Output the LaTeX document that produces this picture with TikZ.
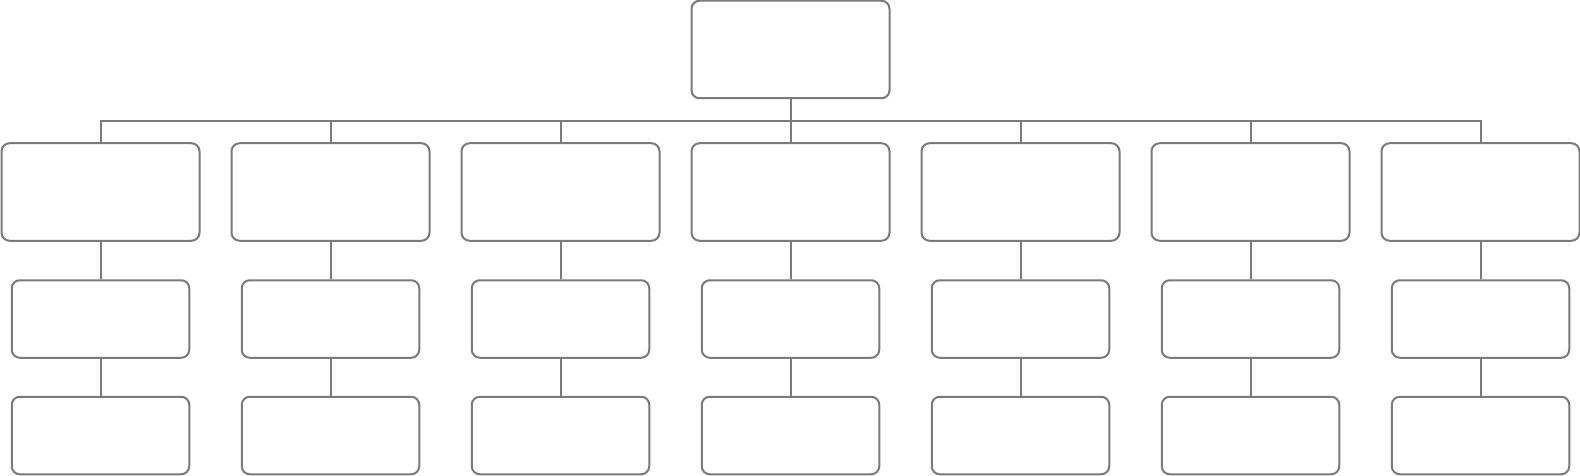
\documentclass[tikz,border=0pt]{standalone}
\usetikzlibrary{positioning}
\definecolor{linegray}{HTML}{7A7A7A}
\begin{document}
\begin{tikzpicture}[x=1pt,y=-1pt,
  bigbox/.style={draw=linegray,line width=2pt,rounded corners=8pt,rectangle,inner sep=0pt,minimum width=198pt,minimum height=97.5pt},
  smallbox/.style={draw=linegray,line width=2pt,rounded corners=8pt,rectangle,inner sep=0pt,minimum width=177.5pt,minimum height=77.5pt},
  conn/.style={draw=linegray,line width=2pt}]
\useasboundingbox (0,0) rectangle (1580,476);
\node[bigbox] (top) at (790.5,49.5) {};
\foreach \i in {1,...,7}{
  \pgfmathsetmacro{\cx}{100.5+230*(\i-1)}
  \node[bigbox] (a\i) at (\cx,192) {};
  \node[smallbox] (b\i) at (\cx,319) {};
  \node[smallbox] (c\i) at (\cx,435.5) {};
  \draw[conn] (a\i.south) -- (b\i.north);
  \draw[conn] (b\i.south) -- (c\i.north);
}
\coordinate (bus) at (790.5,121);
\draw[conn] (top.south) -- (a4.north);
\draw[conn] (a1.north) |- (bus) -| (a7.north);
\foreach \i in {2,3,5,6}{
  \draw[conn] (a\i.north) -- (a\i.north |- bus);
}
\end{tikzpicture}
\end{document}
